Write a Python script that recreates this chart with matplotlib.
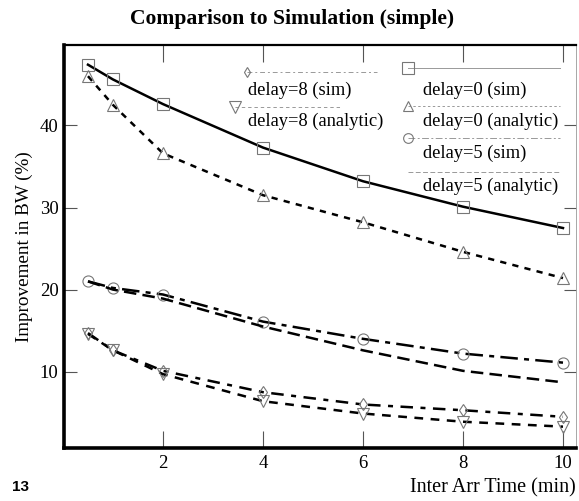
import matplotlib
matplotlib.use('Agg')
import matplotlib.pyplot as plt
from matplotlib.lines import Line2D

# Data
inter_arr = [0.5, 1, 2, 4, 6, 8, 10]
delay0_sim = [47.4, 45.6, 42.6, 37.3, 33.2, 30.1, 27.5]
delay0_analytic = [46.0, 42.5, 36.6, 31.5, 28.2, 24.6, 21.4]
delay5_sim = [21.0, 20.2, 19.4, 16.1, 14.0, 12.2, 11.1]
delay5_analytic = [21.0, 20.0, 18.9, 15.5, 12.6, 10.1, 8.7]
delay8_sim = [14.7, 12.6, 10.1, 7.5, 6.0, 5.3, 4.5]
delay8_analytic = [14.6, 12.6, 9.7, 6.4, 4.9, 3.9, 3.3]

x_ticks = [2, 4, 6, 8, 10]
y_ticks = [10, 20, 30, 40]

plt.rcParams['font.family'] = ['Liberation Serif', 'DejaVu Serif']

fig = plt.figure(figsize=(5.79, 5.01), dpi=100)
ax = fig.add_axes([0.1105, 0.1058, 0.8843, 0.8044])

marker_kw = dict(markerfacecolor='none', markeredgecolor='#777777', markeredgewidth=0.8)

series = [
    ('delay=0 (sim)', delay0_sim, '-', 's', 9),
    ('delay=0 (analytic)', delay0_analytic, (0, (2.5, 2.5)), '^', 8),
    ('delay=5 (sim)', delay5_sim, (0, (7, 2.5, 2, 2.5)), 'o', 8),
    ('delay=5 (analytic)', delay5_analytic, (0, (5, 2.5)), '', 0),
    ('delay=8 (sim)', delay8_sim, (0, (5, 3, 2, 3)), 'd', 6),
    ('delay=8 (analytic)', delay8_analytic, (0, (3.5, 3)), 'v', 9),
]

for label, vals, ls, mk, ms in series:
    ax.plot(inter_arr, vals, color='black', lw=1.8, linestyle=ls,
            marker=mk if mk else None, markersize=ms, **marker_kw)

ax.set_xlim(0.02, 10.26)
ax.set_ylim(0.7, 49.8)
ax.set_xticks(x_ticks)
ax.set_yticks(y_ticks)
ax.tick_params(axis='x', direction='in', length=12, width=0.8, color='#555555',
               top=True, labelsize=13.5, pad=5)
ax.tick_params(axis='y', direction='in', length=9, width=0.8, color='#555555',
               right=True, labelsize=13.5, pad=4)

ax.spines['left'].set_linewidth(2.6)
ax.spines['bottom'].set_linewidth(2.6)
ax.spines['top'].set_linewidth(1.6)
ax.spines['right'].set_linewidth(0.6)
ax.spines['right'].set_color('#999999')

# hand-drawn style legend: line sample above each label
legend_layout = [
    # (series index, line x0, line x1, line y, text x, text y)
    (4, 0.357, 0.611, 0.933, 0.359, 0.888),
    (5, 0.334, 0.539, 0.846, 0.359, 0.811),
    (0, 0.672, 0.969, 0.943, 0.701, 0.888),
    (1, 0.672, 0.969, 0.849, 0.701, 0.811),
    (2, 0.672, 0.969, 0.769, 0.701, 0.730),
    (3, 0.672, 0.969, 0.685, 0.701, 0.650),
]
for idx, lx0, lx1, ly, tx, ty in legend_layout:
    label, vals, ls, mk, ms = series[idx]
    ax.add_line(Line2D([lx0, lx1], [ly, ly], transform=ax.transAxes, color='#999999',
                       lw=0.7, linestyle=ls, clip_on=False))
    if mk:
        ax.add_line(Line2D([lx0], [ly], transform=ax.transAxes, marker=mk, markersize=ms - 1,
                           linestyle='none', clip_on=False, **marker_kw))
    ax.text(tx, ty, label, transform=ax.transAxes, fontsize=13.3, va='center', ha='left')

ax.set_ylabel('Improvement in BW (%)', fontsize=13.8, labelpad=5)
ax.set_xlabel('Inter Arr Time (min)', fontsize=14.5, labelpad=0)
ax.xaxis.set_label_coords(1.0, -0.075)
ax.xaxis.label.set_horizontalalignment('right')

fig.text(0.505, 0.962, 'Comparison to Simulation (simple)', fontsize=15.6,
         fontweight='bold', ha='center', va='center')
fig.text(0.02, 0.028, '13', fontsize=11, fontweight='bold',
         family=['Liberation Sans', 'DejaVu Sans'], ha='left', va='center')

fig.savefig('out.png', dpi=100)
